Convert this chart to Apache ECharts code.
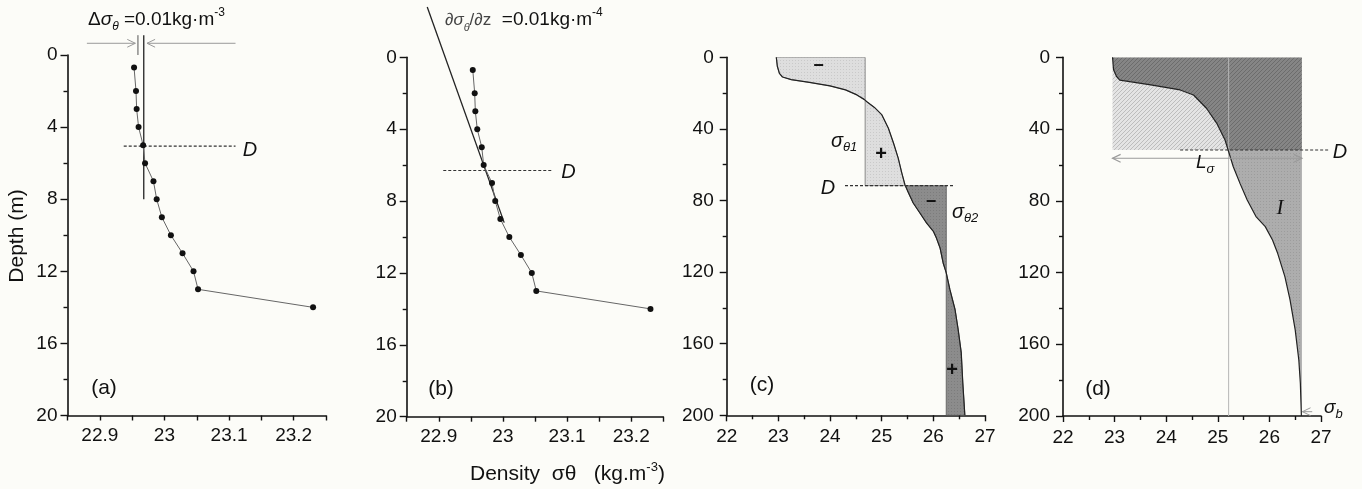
<!DOCTYPE html>
<html><head><meta charset="utf-8">
<script src="https://cdn.jsdelivr.net/npm/echarts@6/dist/echarts.min.js"></script>
<style>html,body{margin:0;padding:0;background:#fcfcf8;}#c{width:1362px;height:489px;}</style>
</head><body><div id="c"></div>
<script>
// ---------- DATA ----------
// Panels (a) and (b): fine-resolution profile (depth m, sigma-theta kg m-3)
const depthAB = [0.7, 2, 3, 4, 5, 6, 7, 8, 9, 10, 11, 12, 13, 14];
const densAB  = [22.953, 22.956, 22.957, 22.960, 22.967, 22.970, 22.983, 22.988, 22.996, 23.010, 23.028, 23.045, 23.052, 23.230];
// Panel (c) profile
const depthC = [0, 5, 9, 11, 12.5, 14, 16, 18.2, 21, 23.5, 25, 28, 32, 39.6, 48, 56.3, 64.7, 71.2, 75.8, 81.4, 87, 92.6, 97.2, 101, 106.5, 114.9, 120.4, 129.7, 140.9, 152, 165, 181.8, 200];
const densC  = [22.96, 22.98, 23.02, 23.08, 23.25, 23.60, 24.00, 24.30, 24.52, 24.66, 24.72, 24.86, 25.00, 25.13, 25.23, 25.32, 25.39, 25.45, 25.52, 25.61, 25.74, 25.87, 26.00, 26.06, 26.13, 26.19, 26.25, 26.32, 26.42, 26.48, 26.54, 26.57, 26.61];
// Panel (d) profile
const depthD = [0, 7, 10.8, 12.7, 15.4, 18.2, 21, 28.4, 36.8, 46.1, 51.7, 61, 70.3, 79.6, 88.8, 94.4, 101.9, 109.3, 122.3, 135.3, 152, 168.8, 181.8, 200];
const densD  = [22.96, 22.98, 23.04, 23.10, 23.70, 24.27, 24.53, 24.78, 24.98, 25.14, 25.20, 25.30, 25.43, 25.57, 25.74, 25.92, 26.06, 26.16, 26.30, 26.40, 26.50, 26.57, 26.60, 26.62];

// Reference values
const sigmaSurfA = 22.959, sigmaThrA = 22.968, mldA = 5.05;      // (a) threshold method
const gradLineB = [[22.882, -2.8], [23.002, 9.2]], mldB = 6.3;     // (b) gradient method
const sigma1C = 24.68, sigma2C = 26.25, mldC = 71.7;               // (c)
const sigmaLeftD = 22.96, sigmaBotD = 26.63, sigmaLD = 25.21, mldD = 51.7; // (d)

// Tick labels
const xLabelsAB = ['22.9', '23', '23.1', '23.2'];
const yLabelsAB = [0, 4, 8, 12, 16, 20];
const xLabelsCD = [22, 23, 24, 25, 26, 27];
const yLabelsCD = [0, 40, 80, 120, 160, 200];

// ---------- HELPERS ----------
const FF = 'Liberation Sans, Arial, sans-serif';
const TXT = '#111111';

function interpAt(dens, depth, d) {
  for (let i = 1; i < depth.length; i++) {
    if (d <= depth[i]) {
      const t = (d - depth[i - 1]) / (depth[i] - depth[i - 1]);
      return dens[i - 1] + t * (dens[i] - dens[i - 1]);
    }
  }
  return dens[dens.length - 1];
}
function segment(dens, depth, d0, d1) {
  const out = [[interpAt(dens, depth, d0), d0]];
  for (let i = 0; i < depth.length; i++) if (depth[i] > d0 && depth[i] < d1) out.push([dens[i], depth[i]]);
  out.push([interpAt(dens, depth, d1), d1]);
  return out;
}
function makePattern(bg, fg, kind) {
  const c = document.createElement('canvas');
  const n = kind === 'hatch' ? 4 : 3;
  c.width = n; c.height = n;
  const g = c.getContext('2d');
  g.fillStyle = bg; g.fillRect(0, 0, n, n);
  g.fillStyle = fg;
  if (kind === 'hatch') {
    for (let i = 0; i < n; i++) g.fillRect(n - 1 - i, i, 1, 1);
  } else {
    g.fillRect(0, 0, 1, 1);
  }
  return { image: c, repeat: 'repeat' };
}
function polySeries(gi, verts, style, z) {
  return {
    type: 'custom', xAxisIndex: gi, yAxisIndex: gi, z: z, silent: true, clip: true,
    data: [verts[0]],
    renderItem: function (params, api) {
      return { type: 'polygon', shape: { points: verts.map(v => api.coord(v)) }, style: Object.assign({}, style) };
    }
  };
}
function annoSeries(gi, segs, z) {
  return {
    type: 'custom', xAxisIndex: gi, yAxisIndex: gi, z: z, silent: true, clip: false,
    data: segs.map(s => s.p[0]),
    renderItem: function (params, api) {
      const s = segs[params.dataIndex];
      const pts = s.p.map(v => api.coord(v));
      const st = { stroke: s.color, lineWidth: s.width, fill: null, lineDash: s.dash || null };
      const ch = [{ type: 'polyline', shape: { points: pts }, style: st }];
      const head = (tip, from) => {
        const ang = Math.atan2(tip[1] - from[1], tip[0] - from[0]);
        const L = 9, a = 0.45;
        ch.push({ type: 'polyline', shape: { points: [
          [tip[0] - L * Math.cos(ang - a), tip[1] - L * Math.sin(ang - a)], tip,
          [tip[0] - L * Math.cos(ang + a), tip[1] - L * Math.sin(ang + a)]] },
          style: { stroke: s.color, lineWidth: s.width, fill: null } });
      };
      if (s.arrowEnd) head(pts[pts.length - 1], pts[pts.length - 2]);
      if (s.arrowStart) head(pts[0], pts[1]);
      return { type: 'group', children: ch };
    }
  };
}
function xAxisAB(gi) {
  return { gridIndex: gi, type: 'value', min: 22.85, max: 23.25, interval: 0.05, position: 'bottom',
    axisLine: { onZero: false, lineStyle: { color: TXT, width: 1.6 } },
    axisTick: { length: 5, lineStyle: { color: TXT, width: 1.4 } },
    axisLabel: { fontSize: 19, fontFamily: FF, color: TXT, margin: 11,
      formatter: v => { const s = String(+(+v).toFixed(2)); return xLabelsAB.includes(s) ? s : ''; } },
    splitLine: { show: false } };
}
function xAxisCD(gi) {
  return { gridIndex: gi, type: 'value', min: 22, max: 27, interval: 1, position: 'bottom',
    axisLine: { onZero: false, lineStyle: { color: TXT, width: 1.6 } },
    axisTick: { length: 6, lineStyle: { color: TXT, width: 1.4 } },
    minorTick: { show: true, splitNumber: 2, length: 4, lineStyle: { color: TXT, width: 1.4 } },
    axisLabel: { fontSize: 19, fontFamily: FF, color: TXT, margin: 12,
      formatter: v => xLabelsCD.includes(Math.round(v)) ? String(Math.round(v)) : '' },
    splitLine: { show: false } };
}
function yAxisGen(gi, max, interval, labels, margin) {
  return { gridIndex: gi, type: 'value', inverse: true, min: 0, max: max, interval: interval,
    axisLine: { onZero: false, lineStyle: { color: TXT, width: 1.6 } },
    axisTick: { length: 7, lineStyle: { color: TXT, width: 1.4 } },
    minorTick: { show: true, splitNumber: 2, length: 4, lineStyle: { color: TXT, width: 1.4 } },
    axisLabel: { fontSize: 19, fontFamily: FF, color: TXT, margin: margin,
      formatter: v => labels.includes(Math.round(v)) ? String(Math.round(v)) : '' },
    splitLine: { show: false } };
}
function txt(x, y, text, rich, extra) {
  return Object.assign({ type: 'text', x: x, y: y, z: 100, silent: true,
    style: { text: text, rich: rich, align: 'left', verticalAlign: 'middle', fill: TXT, fontFamily: FF, fontSize: 19 } }, extra || {});
}
function R(size, italic, va, color) {
  return { fontSize: size, fontFamily: FF, fontStyle: italic ? 'italic' : 'normal', fill: color || TXT, color: color || TXT, verticalAlign: va || 'middle', lineHeight: 26 };
}
function simple(x, y, t, size, opts) {
  return txt(x, y, t, null, { style: Object.assign({ text: t, align: 'center', verticalAlign: 'middle', fill: TXT, fontFamily: FF, fontSize: size }, opts || {}) });
}

// ---------- POLYGONS ----------
const polyC1 = segment(densC, depthC, 0, mldC).concat([[sigma1C, mldC], [sigma1C, 0]]);
const polyC2 = segment(densC, depthC, mldC, 200).concat([[sigma2C, 200], [sigma2C, mldC]]);
const polyDA = segment(densD, depthD, 0, mldD).concat([[sigmaBotD, mldD], [sigmaBotD, 0]]);
const polyDB = segment(densD, depthD, 0, mldD).concat([[sigmaLeftD, mldD], [sigmaLeftD, 0]]);
const polyDC = segment(densD, depthD, mldD, 200).concat([[sigmaBotD, 200], [sigmaBotD, mldD]]);

const pts = (xs, ys) => xs.map((x, i) => [x, ys[i]]);

const chart = echarts.init(document.getElementById('c'), null, { renderer: 'canvas' });
const GREY = '#9a9a9a';
chart.setOption({
  backgroundColor: '#fcfcf8',
  animation: false,
  grid: [
    { left: 67.5, top: 55, width: 258.5, height: 360.5 },
    { left: 406.7, top: 57.3, width: 256.6, height: 359.4 },
    { left: 726.7, top: 57.3, width: 258.3, height: 358 },
    { left: 1063, top: 57.3, width: 258, height: 358.7 }
  ],
  xAxis: [xAxisAB(0), xAxisAB(1), xAxisCD(2), xAxisCD(3)],
  yAxis: [yAxisGen(0, 20, 4, yLabelsAB, 10), yAxisGen(1, 20, 4, yLabelsAB, 10),
          yAxisGen(2, 200, 40, yLabelsCD, 13), yAxisGen(3, 200, 40, yLabelsCD, 13)],
  series: [
    // (a)
    annoSeries(0, [
      { p: [[sigmaThrA, -1.1], [sigmaThrA, 8]], color: '#222', width: 1.3 },
      { p: [[sigmaSurfA, -1.1], [sigmaSurfA, 0]], color: '#555', width: 1 },
      { p: [[22.880, -0.65], [22.955, -0.65]], color: GREY, width: 1, arrowEnd: true },
      { p: [[23.110, -0.65], [22.973, -0.65]], color: GREY, width: 1, arrowEnd: true },
      { p: [[22.937, mldA], [23.110, mldA]], color: '#333', width: 1.2, dash: [3, 2] }
    ], 2),
    { type: 'line', xAxisIndex: 0, yAxisIndex: 0, data: pts(densAB, depthAB), z: 5,
      symbol: 'circle', symbolSize: 6, itemStyle: { color: '#111' },
      lineStyle: { color: '#666', width: 1 } },
    // (b)
    annoSeries(1, [
      { p: gradLineB, color: '#222', width: 1.3 },
      { p: [[22.907, mldB], [23.078, mldB]], color: '#333', width: 1.2, dash: [3, 2] }
    ], 2),
    { type: 'line', xAxisIndex: 1, yAxisIndex: 1, data: pts(densAB, depthAB), z: 5,
      symbol: 'circle', symbolSize: 6, itemStyle: { color: '#111' },
      lineStyle: { color: '#666', width: 1 } },
    // (c)
    polySeries(2, polyC1, { fill: makePattern('#dedede', '#c9c9c9', 'dots'), stroke: '#8a8a8a', lineWidth: 1 }, 1),
    polySeries(2, polyC2, { fill: makePattern('#8c8c8c', '#7c7c7c', 'dots'), stroke: '#6a6a6a', lineWidth: 1 }, 1),
    { type: 'line', xAxisIndex: 2, yAxisIndex: 2, data: pts(densC, depthC), z: 4,
      showSymbol: false, symbol: 'none', lineStyle: { color: '#222', width: 1.2 } },
    annoSeries(2, [
      { p: [[24.29, mldC], [26.42, mldC]], color: '#333', width: 1.2, dash: [3, 2] }
    ], 6),
    // (d)
    polySeries(3, polyDA, { fill: makePattern('#858585', '#6c6c6c', 'hatch'), stroke: null }, 1),
    polySeries(3, polyDB, { fill: makePattern('#e4e4e4', '#bdbdbd', 'hatch'), stroke: null }, 1),
    polySeries(3, polyDC, { fill: makePattern('#adadad', '#9c9c9c', 'dots'), stroke: null }, 1),
    annoSeries(3, [
      { p: [[sigmaLD, 0], [sigmaLD, 200]], color: '#b5b5b5', width: 1 }
    ], 3),
    { type: 'line', xAxisIndex: 3, yAxisIndex: 3, data: pts(densD, depthD), z: 4,
      showSymbol: false, symbol: 'none', lineStyle: { color: '#222', width: 1.2 } },
    annoSeries(3, [
      { p: [[24.27, mldD], [27.17, mldD]], color: '#333', width: 1.2, dash: [3, 2] },
      { p: [[sigmaLeftD, 56.3], [sigmaBotD, 56.3]], color: GREY, width: 1.2, arrowStart: true, arrowEnd: true },
      { p: [[26.83, 197.6], [26.64, 197.6]], color: GREY, width: 1, arrowEnd: true }
    ], 6)
  ],
  graphic: [
    // titles
    txt(88, 20, '{n|Δ}{i|σ}{s|θ}{n| =0.01kg·m}{p|-3}', { n: R(19), i: R(19, true), s: R(12, true, 'bottom'), p: R(12, false, 'top') }),
    txt(445, 20, '{g|∂}{i|σ}{s|θ}{g|/∂z}{n|  =0.01kg·m}{p|-4}', { g: R(17, false, 'middle', '#444'), i: R(17, true, 'middle', '#444'), s: R(11, true, 'bottom', '#444'), n: R(19), p: R(12, false, 'top') }),
    // axis titles
    txt(17, 236, 'Depth (m)', null, { rotation: Math.PI / 2, style: { text: 'Depth (m)', align: 'center', verticalAlign: 'middle', fill: TXT, fontFamily: FF, fontSize: 21 } }),
    txt(470, 474, '{n|Density  σθ   (kg.m}{p|-3}{n|)}', { n: R(21), p: R(13, false, 'top') }),
    // D labels
    simple(250, 150, 'D', 20, { fontStyle: 'italic' }),
    simple(568.5, 172, 'D', 20, { fontStyle: 'italic' }),
    simple(828, 188.5, 'D', 20, { fontStyle: 'italic' }),
    simple(1340, 152, 'D', 20, { fontStyle: 'italic' }),
    // panel labels
    simple(104, 388, '(a)', 21),
    simple(441, 389, '(b)', 21),
    simple(762, 385, '(c)', 21),
    simple(1098, 389, '(d)', 21),
    // (c) annotations
    simple(818.5, 66, '−', 18, { fontWeight: 'bold' }),
    simple(881, 154, '+', 20, { fontWeight: 'bold' }),
    simple(931, 202, '−', 18, { fontWeight: 'bold' }),
    simple(952, 370, '+', 20, { fontWeight: 'bold' }),
    txt(831, 141, '{i|σ}{s|θ1}', { i: R(20, true), s: R(13, true, 'bottom') }),
    txt(952, 212, '{i|σ}{s|θ2}', { i: R(20, true), s: R(13, true, 'bottom') }),
    // (d) annotations
    txt(1196, 163, '{i|L}{s|σ}', { i: R(19, true), s: R(13, true, 'bottom') }),
    simple(1280, 208, 'I', 21, { fontFamily: 'Liberation Serif, serif', fontStyle: 'italic' }),
    txt(1324, 408, '{i|σ}{s|b}', { i: R(19, true), s: R(13, true, 'bottom') })
  ]
});
</script></body></html>
